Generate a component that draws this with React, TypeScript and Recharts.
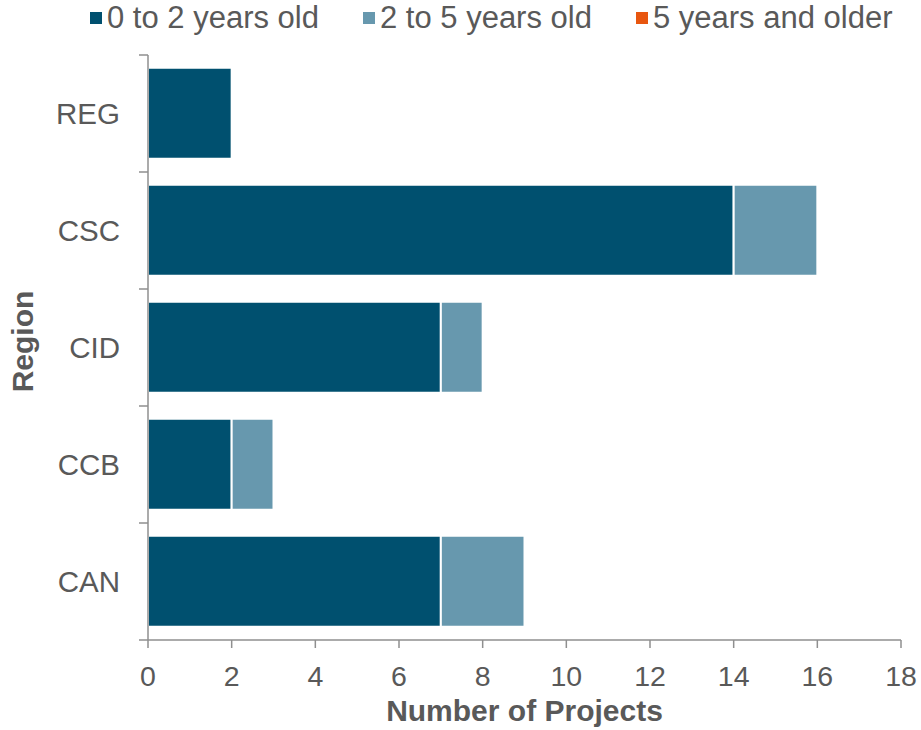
import React from 'react';
import { BarChart, Bar, XAxis, YAxis, Legend, Label } from 'recharts';

const REGIONS = ['REG', 'CSC', 'CID', 'CCB', 'CAN'];
const AGE_0_2 = [2, 14, 7, 2, 7];
const AGE_2_5 = [0, 2, 1, 1, 2];
const AGE_5_PLUS = [0, 0, 0, 0, 0];
const X_TICKS = [0, 2, 4, 6, 8, 10, 12, 14, 16, 18];

const SERIES = [
  { key: 'a', name: '0 to 2 years old', color: '#00506F' },
  { key: 'b', name: '2 to 5 years old', color: '#6798AE' },
  { key: 'c', name: '5 years and older', color: '#E8560F' },
];

const data = REGIONS.map((region, i) => ({
  region,
  a: AGE_0_2[i],
  b: AGE_2_5[i],
  c: AGE_5_PLUS[i],
}));

const FONT = '"Liberation Sans", Arial, sans-serif';
const TEXT = '#595959';
const AXIS = '#8f8f8f';

const RegionTick = (props: any) => {
  const { x, y, payload, index } = props;
  const half = payload.offset ?? 58.5;
  const axisX = x + 28;
  const last = index === REGIONS.length - 1;
  return (
    <g>
      <line x1={axisX - 9} x2={axisX} y1={y - half} y2={y - half} stroke={AXIS} strokeWidth={1.5} />
      {last && <line x1={axisX - 9} x2={axisX} y1={y + half} y2={y + half} stroke={AXIS} strokeWidth={1.5} />}
      <text x={x} y={y} textAnchor="end" dominantBaseline="central" fill={TEXT} fontSize={29.5} fontFamily={FONT}>
        {payload.value}
      </text>
    </g>
  );
};

const LegendBox = () => (
  <div style={{ height: 40, position: 'relative', fontFamily: FONT, fontSize: 31, color: TEXT }}>
    <div style={{ position: 'absolute', left: 90, top: 0, display: 'flex', gap: 44, whiteSpace: 'nowrap' }}>
      {SERIES.map((s) => (
        <div key={s.key} style={{ display: 'flex', alignItems: 'center' }}>
          <span style={{ width: 12, height: 12, background: s.color, marginRight: 5, display: 'inline-block' }} />
          <span>{s.name}</span>
        </div>
      ))}
    </div>
  </div>
);

export default function App() {
  return (
    <div style={{ position: 'absolute', left: 0, top: 0, background: '#fff' }}>
      <BarChart
        width={921}
        height={730}
        data={data}
        layout="vertical"
        margin={{ top: 15, right: 20, bottom: 0, left: 0 }}
        barCategoryGap="11%"
      >
        <Legend
          verticalAlign="top"
          align="left"
          content={<LegendBox />}
          wrapperStyle={{ top: 0, left: 0, width: 921 }}
        />
        <XAxis
          type="number"
          domain={[0, 18]}
          ticks={X_TICKS}
          height={90}
          stroke={AXIS}
          strokeWidth={1.5}
          tickSize={8}
          tickMargin={18}
          tick={{ fill: TEXT, fontSize: 28.5, fontFamily: FONT }}
        >
          <Label
            value="Number of Projects"
            position="insideBottom"
            offset={9}
            fill={TEXT}
            fontSize={30}
            fontWeight="bold"
            fontFamily={FONT}
          />
        </XAxis>
        <YAxis
          type="category"
          dataKey="region"
          width={148}
          stroke={AXIS}
          strokeWidth={1.5}
          tickLine={false}
          tickSize={9}
          tickMargin={19}
          tick={<RegionTick />}
        >
          <Label
            value="Region"
            angle={-90}
            position="insideLeft"
            offset={22}
            dy={-6}
            fill={TEXT}
            fontSize={30}
            fontWeight="bold"
            fontFamily={FONT}
            style={{ textAnchor: 'middle' }}
          />
        </YAxis>
        {SERIES.map((s) => (
          <Bar
            key={s.key}
            dataKey={s.key}
            name={s.name}
            stackId="age"
            fill={s.color}
            stroke="#ffffff"
            strokeWidth={2}
            isAnimationActive={false}
          />
        ))}
      </BarChart>
    </div>
  );
}
